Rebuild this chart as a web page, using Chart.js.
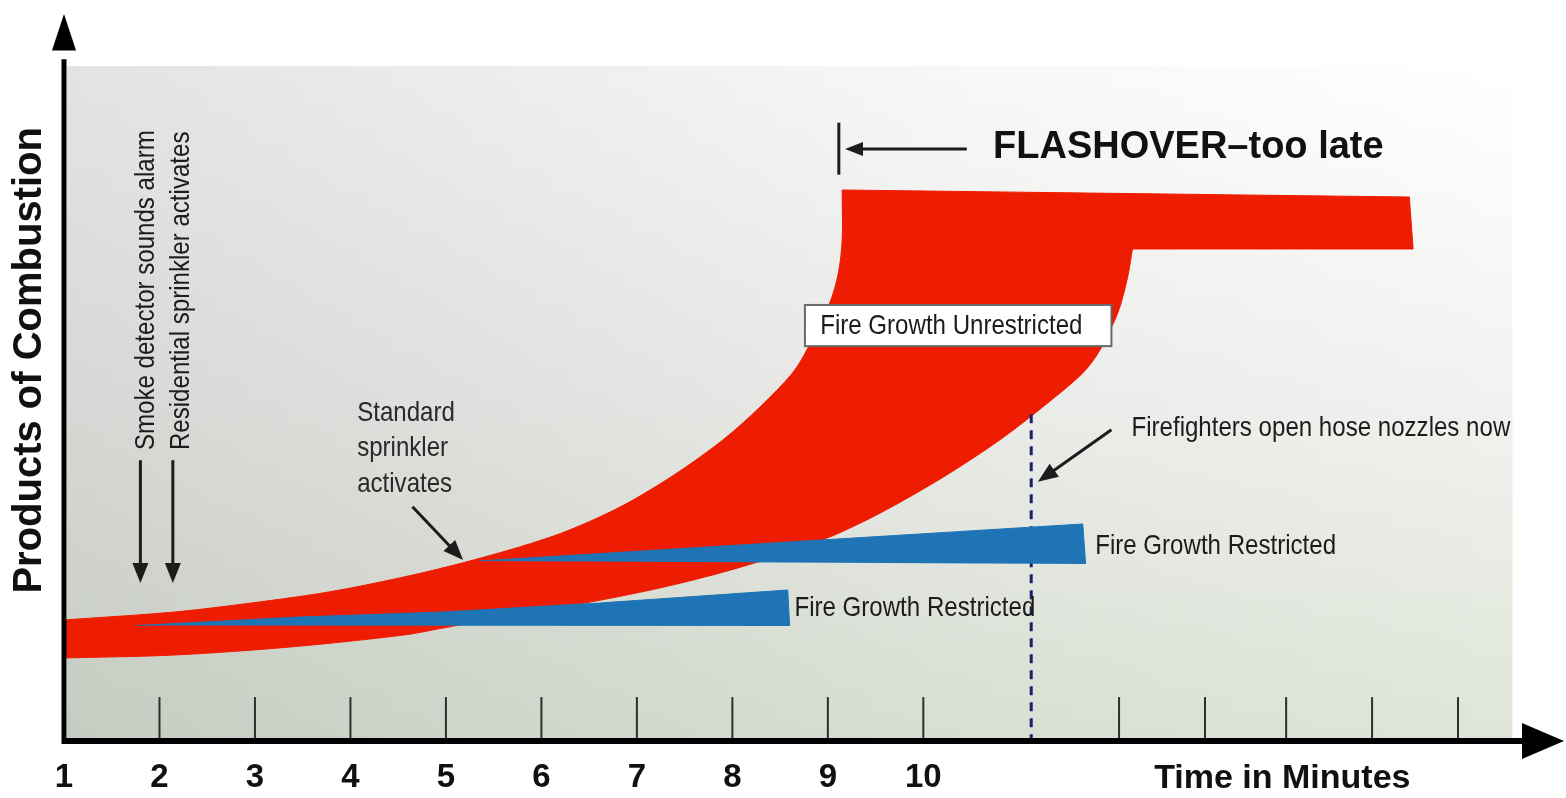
<!DOCTYPE html>
<html>
<head>
<meta charset="utf-8">
<title>Fire growth and sprinkler activation</title>
<script src="https://cdn.jsdelivr.net/npm/chart.js@4.4.1/dist/chart.umd.min.js"></script>
<style>
  html, body { margin: 0; padding: 0; background: #fff; }
  #wrap { width: 1566px; height: 798px; }
</style>
</head>
<body>
<div id="wrap"><canvas id="chart" width="1566" height="798"></canvas></div>
<script>
// x = time in minutes, y = products of combustion (0-100, arbitrary)

// ── Axis ticks ──────────────────────────────────────────────
const TICK_VALUES = [1, 2, 3, 4, 5, 6, 7, 8, 9, 10];
const TICK_LABELS = ['1', '2', '3', '4', '5', '6', '7', '8', '9', '10'];
const EXTRA_TICKS = [12.05, 12.95, 13.8, 14.7, 15.6];   // unlabelled

// ── Fire growth unrestricted (red band) ─────────────────────
// top edge, left to right (jumps up at flashover)
const unrestrictedTopX = [1.00, 2.16, 2.96, 3.77, 4.56, 5.17, 5.77, 6.20, 6.61, 6.96, 7.42, 7.90, 8.29, 8.63, 8.78, 9.02, 9.11, 9.15, 9.15, 15.09];
const unrestrictedTopY = [17.93, 19.11, 20.44, 22.07, 24.30, 26.37, 28.74, 30.74, 33.19, 35.70, 39.70, 44.59, 49.48, 54.52, 57.93, 64.89, 69.33, 74.22, 81.63, 80.59];
// bottom edge, left to right
const unrestrictedBottomX = [1.00, 2.16, 3.37, 4.56, 4.97, 5.78, 6.57, 7.24, 7.87, 8.50, 9.02, 9.55, 10.21, 10.80, 11.25, 11.67, 11.85, 12.04, 12.14, 12.19, 15.13];
const unrestrictedBottomY = [12.30, 12.74, 13.93, 15.70, 16.74, 18.81, 20.74, 22.67, 24.89, 27.56, 30.22, 33.78, 39.11, 44.59, 49.48, 54.52, 57.93, 63.56, 68.74, 72.89, 72.89];

// ── Fire growth restricted (blue wedges) ────────────────────
const residentialX = [1.76, 3.47, 4.97, 6.61, 8.58, 8.60];
const residentialY = [17.10, 18.37, 19.11, 20.44, 22.37, 17.04];
const standardX = [5.35, 11.67, 11.70];
const standardY = [26.67, 32.15, 26.22];

// ── Firefighters open hose nozzles (dotted line) ────────────
const hoseX = [11.13, 11.13];
const hoseY = [48.4, 0];

// ── Colours ─────────────────────────────────────────────────
const RED = '#ee1c00';
const BLUE = '#1f74b5';
const NAVY = '#1a1f6e';
const INK = '#1c1c1c';

const SANS = '"Liberation Sans", Arial, sans-serif';
const NARROW = 0.86;

function pts(xs, ys) {
    return xs.map((x, i) => ({ x, y: ys[i] }));
}

// closed outline: top edge forward, bottom edge back.
// a doubled point keeps the spline square at the flashover corners
const sharp = p => [p, { ...p }];
const topPts = pts(unrestrictedTopX, unrestrictedTopY);
const bottomPts = pts(unrestrictedBottomX, unrestrictedBottomY).reverse();
const unrestrictedShape = [
    ...topPts.slice(0, -2),
    ...topPts.slice(-2).flatMap(sharp),
    ...bottomPts.slice(0, 2).flatMap(sharp),
    ...bottomPts.slice(2),
];

// ── Drawing helpers ─────────────────────────────────────────
function text(ctx, str, x, y, o) {
    ctx.save();
    ctx.translate(x, y);
    if (o.rotate) ctx.rotate(o.rotate);
    ctx.scale(o.sx || 1, 1);
    ctx.font = o.font;
    ctx.fillStyle = o.color || INK;
    ctx.textAlign = o.align || 'left';
    ctx.textBaseline = 'middle';
    ctx.fillText(str, 0, 0);
    ctx.restore();
}

function arrow(ctx, x1, y1, x2, y2, head, half, width) {
    const a = Math.atan2(y2 - y1, x2 - x1);
    const c = Math.cos(a), s = Math.sin(a);
    ctx.lineWidth = width;
    ctx.beginPath();
    ctx.moveTo(x1, y1);
    ctx.lineTo(x2 - c * head * 0.8, y2 - s * head * 0.8);
    ctx.stroke();
    ctx.beginPath();
    ctx.moveTo(x2, y2);
    ctx.lineTo(x2 - c * head + s * half, y2 - s * head - c * half);
    ctx.lineTo(x2 - c * head - s * half, y2 - s * head + c * half);
    ctx.closePath();
    ctx.fill();
}

const decor = {
    id: 'decor',
    beforeDatasetsDraw(chart) {
        const { ctx, scales: { x, y } } = chart;
        const l = x.getPixelForValue(1.03), r = x.getPixelForValue(16.17);
        const t = y.getPixelForValue(100), b = y.getPixelForValue(0);
        ctx.save();
        const gv = ctx.createLinearGradient(0, t, 0, b);
        gv.addColorStop(0, '#ffffff');
        gv.addColorStop(0.5, '#f1f2ef');
        gv.addColorStop(1, '#dee5d8');
        ctx.fillStyle = gv;
        ctx.fillRect(l, t, r - l, b - t);
        const gh = ctx.createLinearGradient(l, 0, r, 0);
        gh.addColorStop(0, 'rgba(0,0,0,0.11)');
        gh.addColorStop(0.6, 'rgba(0,0,0,0.03)');
        gh.addColorStop(1, 'rgba(0,0,0,0)');
        ctx.fillStyle = gh;
        ctx.fillRect(l, t, r - l, b - t);
        ctx.restore();
    },
    afterDatasetsDraw(chart) {
        const { ctx, scales: { x, y } } = chart;
        const X = v => x.getPixelForValue(v);
        const Y = v => y.getPixelForValue(v);
        const x0 = X(1), y0 = Y(0);

        ctx.save();

        // tick marks
        ctx.lineWidth = 2;
        ctx.strokeStyle = '#2e2e2e';
        TICK_VALUES.slice(1).concat(EXTRA_TICKS).forEach(v => {
            ctx.beginPath();
            ctx.moveTo(X(v), Y(6.5));
            ctx.lineTo(X(v), y0);
            ctx.stroke();
        });

        // axes with arrow heads
        ctx.strokeStyle = '#000';
        ctx.fillStyle = '#000';
        ctx.lineWidth = 5;
        ctx.beginPath();
        ctx.moveTo(x0, y0 + 3);
        ctx.lineTo(x0, Y(101));
        ctx.stroke();
        ctx.beginPath();
        ctx.moveTo(x0, Y(107.7));
        ctx.lineTo(x0 - 12, Y(102.3));
        ctx.lineTo(x0 + 12, Y(102.3));
        ctx.closePath();
        ctx.fill();

        ctx.lineWidth = 6;
        ctx.beginPath();
        ctx.moveTo(x0 - 2, y0);
        ctx.lineTo(X(16.3), y0);
        ctx.stroke();
        ctx.beginPath();
        ctx.moveTo(X(16.71), y0);
        ctx.lineTo(X(16.27), y0 - 18);
        ctx.lineTo(X(16.27), y0 + 18);
        ctx.closePath();
        ctx.fill();

        // tick labels and axis titles
        TICK_VALUES.forEach((v, i) => {
            text(ctx, TICK_LABELS[i], X(v), Y(-5.5), { font: 'bold 33px ' + SANS, align: 'center', color: '#111' });
        });
        text(ctx, 'Time in Minutes', X(13.76), Y(-5.5), { font: 'bold 34px ' + SANS, align: 'center', color: '#111' });
        text(ctx, 'Products of Combustion', X(0.644), Y(56.4), { font: 'bold 40px ' + SANS, align: 'center', color: '#111', rotate: -Math.PI / 2 });

        // detector / residential sprinkler markers
        ctx.strokeStyle = INK;
        ctx.fillStyle = INK;
        arrow(ctx, X(1.80), Y(41.6), X(1.80), Y(23.4), 20, 8, 3);
        arrow(ctx, X(2.14), Y(41.6), X(2.14), Y(23.4), 20, 8, 3);
        const nf = '28px ' + SANS;
        text(ctx, 'Smoke detector sounds alarm', X(1.86), Y(43.1), { font: nf, sx: NARROW, rotate: -Math.PI / 2 });
        text(ctx, 'Residential sprinkler activates', X(2.225), Y(43.1), { font: nf, sx: NARROW, rotate: -Math.PI / 2 });

        // standard sprinkler
        ['Standard', 'sprinkler', 'activates'].forEach((s, i) => {
            text(ctx, s, X(4.07), Y([48.6, 43.3, 38.1][i]), { font: nf, sx: NARROW, color: '#2a2a2a' });
        });
        arrow(ctx, X(4.65), Y(34.7), X(5.18), Y(26.8), 20, 8, 3);

        // flashover
        ctx.lineWidth = 3;
        ctx.beginPath();
        ctx.moveTo(X(9.115), Y(91.6));
        ctx.lineTo(X(9.115), Y(83.9));
        ctx.stroke();
        arrow(ctx, X(10.455), Y(87.7), X(9.18), Y(87.7), 18, 7, 3);
        text(ctx, 'FLASHOVER\u2013too late', X(10.73), Y(87.85), { font: 'bold 38px ' + SANS, color: '#111' });

        // unrestricted label box
        const bl = X(8.76), br = X(11.97), bt = Y(64.6), bb = Y(58.5);
        ctx.fillStyle = '#fff';
        ctx.fillRect(bl, bt, br - bl, bb - bt);
        ctx.lineWidth = 2;
        ctx.strokeStyle = '#6a6a6a';
        ctx.strokeRect(bl, bt, br - bl, bb - bt);
        text(ctx, 'Fire Growth Unrestricted', X(8.92), Y(61.5), { font: nf, sx: NARROW });

        // firefighters
        ctx.strokeStyle = INK;
        ctx.fillStyle = INK;
        text(ctx, 'Firefighters open hose nozzles now', X(12.18), Y(46.4), { font: nf, sx: NARROW });
        arrow(ctx, X(11.97), Y(46.1), X(11.20), Y(38.4), 20, 8, 3);

        // restricted labels
        text(ctx, 'Fire Growth Restricted', X(11.80), Y(28.9), { font: nf, sx: NARROW });
        text(ctx, 'Fire Growth Restricted', X(8.65), Y(19.6), { font: nf, sx: NARROW });

        ctx.restore();
    },
};

new Chart(document.getElementById('chart'), {
    type: 'line',
    data: {
        datasets: [
            {
                label: 'Fire Growth Restricted (standard sprinkler)',
                data: pts(standardX, standardY),
                borderColor: BLUE, backgroundColor: BLUE, borderWidth: 1,
                fill: 'shape', order: 1,
            },
            {
                label: 'Fire Growth Restricted (residential sprinkler)',
                data: pts(residentialX, residentialY),
                borderColor: BLUE, backgroundColor: BLUE, borderWidth: 1,
                fill: 'shape', order: 1,
            },
            {
                label: 'Firefighters open hose nozzles',
                data: pts(hoseX, hoseY),
                borderColor: NAVY, borderWidth: 3, borderDash: [9, 7],
                fill: false, order: 2,
            },
            {
                label: 'Fire Growth Unrestricted',
                data: unrestrictedShape,
                borderColor: RED, backgroundColor: RED, borderWidth: 1,
                tension: 0.3,
                fill: 'shape', order: 3,
            },
        ],
    },
    options: {
        responsive: false,
        animation: false,
        layout: { padding: { left: 64, right: 2, top: 12, bottom: 57 } },
        scales: {
            x: { type: 'linear', min: 1, max: 16.71, display: false },
            y: { type: 'linear', min: 0, max: 108, display: false },
        },
        elements: {
            point: { radius: 0, hoverRadius: 0 },
            line: { tension: 0, capBezierPoints: false },
        },
        plugins: {
            legend: { display: false },
            tooltip: { enabled: false },
        },
    },
    plugins: [decor],
});
</script>
</body>
</html>
